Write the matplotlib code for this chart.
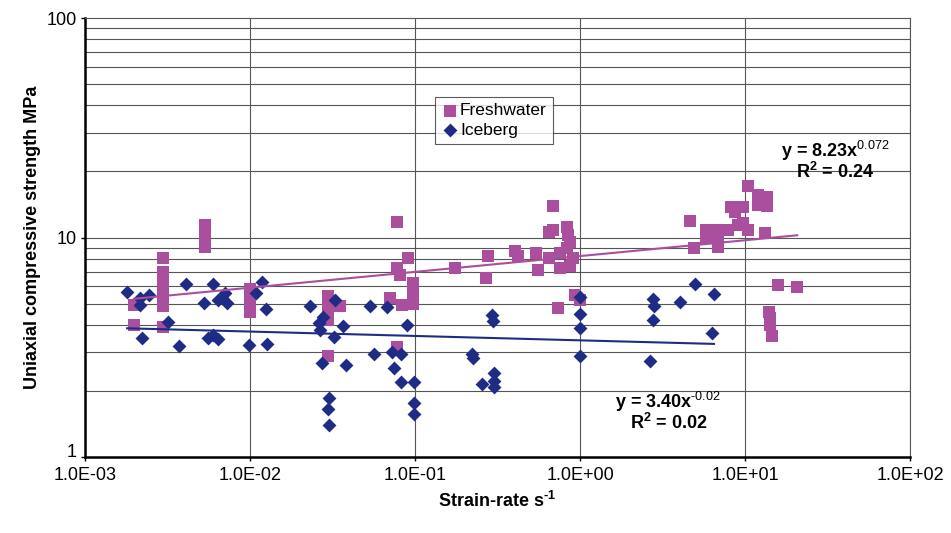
import numpy as np
import matplotlib
matplotlib.use("Agg")
import matplotlib.pyplot as plt

plt.rcParams["font.family"] = ["Liberation Sans", "DejaVu Sans"]
plt.rcParams["mathtext.fontset"] = "custom"
plt.rcParams["mathtext.rm"] = "Liberation Sans"
plt.rcParams["mathtext.bf"] = "Liberation Sans:bold"

# freshwater ice: strain rate (1/s) and uniaxial compressive strength (MPa)
fw_rate = [
    0.00198, 0.00198,
    0.00297, 0.00297, 0.00297, 0.00297, 0.00297, 0.00297, 0.00297,
    0.00533, 0.00533, 0.00533, 0.00533,
    0.0100, 0.0100, 0.0100, 0.0100,
    0.0297, 0.0297, 0.0297, 0.0297, 0.0351, 0.0297,
    0.0704, 0.0778, 0.0778, 0.0811, 0.0834, 0.0907, 0.0972, 0.0972, 0.0972, 0.0778,
    0.175, 0.277, 0.27, 0.404, 0.42, 0.541, 0.56, 0.686, 0.686, 0.65, 0.834,
    0.85, 0.65, 0.76, 0.76, 0.87, 0.907, 0.834, 0.87, 0.735, 0.93, 1.0,
    4.64, 4.9, 5.8, 5.8, 6.86, 6.86, 6.86, 7.89, 8.2, 8.7, 9.7, 9.1, 9.7,
    10.4, 10.4, 12.0, 13.6, 12.0, 13.6, 13.3, 15.8, 20.7, 14.0, 14.2, 14.2, 14.6,
]
fw_strength = [
    4.93, 4.0,
    8.1, 7.0, 6.4, 5.9, 5.4, 4.9, 3.9,
    11.4, 10.6, 9.8, 9.05,
    5.8, 5.3, 4.9, 4.6,
    5.4, 5.0, 4.6, 4.2, 4.9, 2.9,
    5.3, 11.8, 7.3, 6.75, 4.93, 8.07, 6.2, 5.6, 5.0, 3.17,
    7.26, 8.23, 6.54, 8.68, 8.2, 8.5, 7.1, 13.9, 10.8, 10.6, 11.2,
    10.3, 8.1, 8.5, 7.3, 7.4, 8.1, 8.94, 9.5, 4.78, 5.47, 5.2,
    11.9, 8.96, 10.8, 10.0, 10.8, 9.05, 10.0, 10.8, 13.8, 13.1, 13.8, 11.4, 11.6,
    10.8, 17.2, 15.6, 15.3, 14.1, 13.9, 10.5, 6.08, 5.95, 4.58, 4.3, 4.0, 3.56,
]

# iceberg ice
ice_rate = [
    0.0018, 0.00215, 0.00215, 0.00244, 0.00221, 0.00318, 0.00371, 0.0041,
    0.00526, 0.00597, 0.0064, 0.00705, 0.0073, 0.0068, 0.00556, 0.006, 0.0064,
    0.0099, 0.0109, 0.0118, 0.0125, 0.0127,
    0.0231, 0.0277, 0.0261, 0.0265, 0.0327, 0.0322, 0.0366, 0.0272, 0.038,
    0.0301, 0.0297, 0.0301,
    0.0533, 0.0676, 0.0563, 0.0725, 0.0823, 0.075, 0.082, 0.090, 0.098, 0.098, 0.098,
    0.221, 0.225, 0.293, 0.295, 0.30, 0.30, 0.255, 0.30,
    1.0, 1.0, 1.0, 1.0,
    2.77, 2.8, 2.77, 2.66, 4.04, 4.98, 6.49, 6.3,
]
ice_strength = [
    5.65, 5.3, 4.93, 5.45, 3.48, 4.12, 3.2, 6.14,
    5.03, 6.14, 5.2, 5.57, 5.03, 5.3, 3.48, 3.6, 3.46,
    3.24, 5.57, 6.27, 4.71, 3.28,
    4.88, 4.35, 4.08, 3.79, 5.19, 3.52, 3.95, 2.68, 2.62,
    1.86, 1.66, 1.40,
    4.88, 4.83, 2.95, 3.0, 2.95, 2.54, 2.2, 3.99, 2.2, 1.76, 1.57,
    2.95, 2.83, 4.44, 4.17, 2.41, 2.23, 2.15, 2.09,
    5.36, 4.48, 3.87, 2.88,
    5.25, 4.86, 4.21, 2.74, 5.08, 6.14, 5.53, 3.67,
]

# power-law trendlines y = a * x^b
fw_a, fw_b, fw_r2 = 8.23, 0.072, 0.24
ice_a, ice_b, ice_r2 = 3.40, -0.02, 0.02

x_ticks = [1e-3, 1e-2, 1e-1, 1e0, 1e1, 1e2]
x_labels = ["1.0E-03", "1.0E-02", "1.0E-01", "1.0E+00", "1.0E+01", "1.0E+02"]
y_ticks = [1, 10, 100]
y_labels = ["1", "10", "100"]

PINK = "#AA4E9E"
NAVY = "#1F2C85"
HYPHEN = "\u2010"  # plain hyphen in superscripts instead of a math minus

fig = plt.figure(figsize=(9.51, 5.33), dpi=100)
ax = fig.add_axes([0.0894, 0.1426, 0.8675, 0.8236])
ax.set_xscale("log")
ax.set_yscale("log")
ax.set_xlim(1e-3, 1e2)
ax.set_ylim(1, 100)

# horizontal grid at every minor decade step, vertical only at decades
for dec in (1, 10):
    for k in range(2, 10):
        ax.axhline(dec * k, color="#555555", lw=0.8, zorder=1)
ax.axhline(10, color="#555555", lw=0.8, zorder=1)
for xv in x_ticks[1:]:
    ax.axvline(xv, color="#555555", lw=0.8, zorder=1)

ax.scatter(fw_rate, fw_strength, marker="s", s=85, color=PINK, lw=0,
           zorder=3, label="Freshwater")
ax.scatter(ice_rate, ice_strength, marker="D", s=50, color=NAVY, lw=0,
           zorder=3, label="Iceberg")

xf = np.geomspace(min(fw_rate), max(fw_rate), 50)
ax.plot(xf, fw_a * xf ** fw_b, color=PINK, lw=1.5, zorder=4)
xi = np.geomspace(min(ice_rate), max(ice_rate), 50)
ax.plot(xi, ice_a * xi ** ice_b, color=NAVY, lw=1.5, zorder=4)


def exponent(v):
    return str(v).replace("-", HYPHEN)


eq_kw = dict(transform=ax.transAxes, ha="center", va="center", fontsize=13,
             fontweight="bold")
ax.text(0.909, 0.697, r"y = %.2fx$^{\mathrm{%s}}$" % (fw_a, exponent(fw_b)), **eq_kw)
ax.text(0.909, 0.650, r"R$^{\mathbf{2}}$ = %.2f" % fw_r2, **eq_kw)
ax.text(0.707, 0.125, r"y = %.2fx$^{\mathrm{%s}}$" % (ice_a, exponent(ice_b)), **eq_kw)
ax.text(0.707, 0.078, r"R$^{\mathbf{2}}$ = %.2f" % ice_r2, **eq_kw)

ax.set_xticks(x_ticks)
ax.set_xticklabels(x_labels)
ax.set_yticks(y_ticks)
ax.set_yticklabels(y_labels)
ax.xaxis.set_minor_locator(plt.NullLocator())
ax.yaxis.set_minor_locator(plt.NullLocator())
ax.tick_params(axis="both", labelsize=13, length=3, width=1, direction="out")
ax.tick_params(axis="x", pad=4)
ax.tick_params(axis="y", pad=3)
# lift the bottom y label a touch so it clears the first x label
ax.get_yticklabels()[0].set_verticalalignment("baseline")

for side in ("top", "right"):
    ax.spines[side].set_color("#555555")
    ax.spines[side].set_linewidth(0.8)
for side in ("left", "bottom"):
    ax.spines[side].set_color("black")
    ax.spines[side].set_linewidth(1.8)

ax.set_xlabel(r"Strain-rate s$^{\mathbf{%s1}}$" % HYPHEN, fontsize=13,
              fontweight="bold", labelpad=5)
ax.set_ylabel("Uniaxial compressive strength MPa", fontsize=13,
              fontweight="bold", labelpad=4)

leg = ax.legend(loc="upper left", bbox_to_anchor=(0.424, 0.82), fontsize=12.5,
                frameon=True, fancybox=False, handletextpad=0.1,
                handlelength=1.0, borderpad=0.35, labelspacing=0.25,
                borderaxespad=0)
leg.get_frame().set_edgecolor("#333333")
leg.get_frame().set_linewidth(0.8)

fig.savefig("out.png", dpi=100)
